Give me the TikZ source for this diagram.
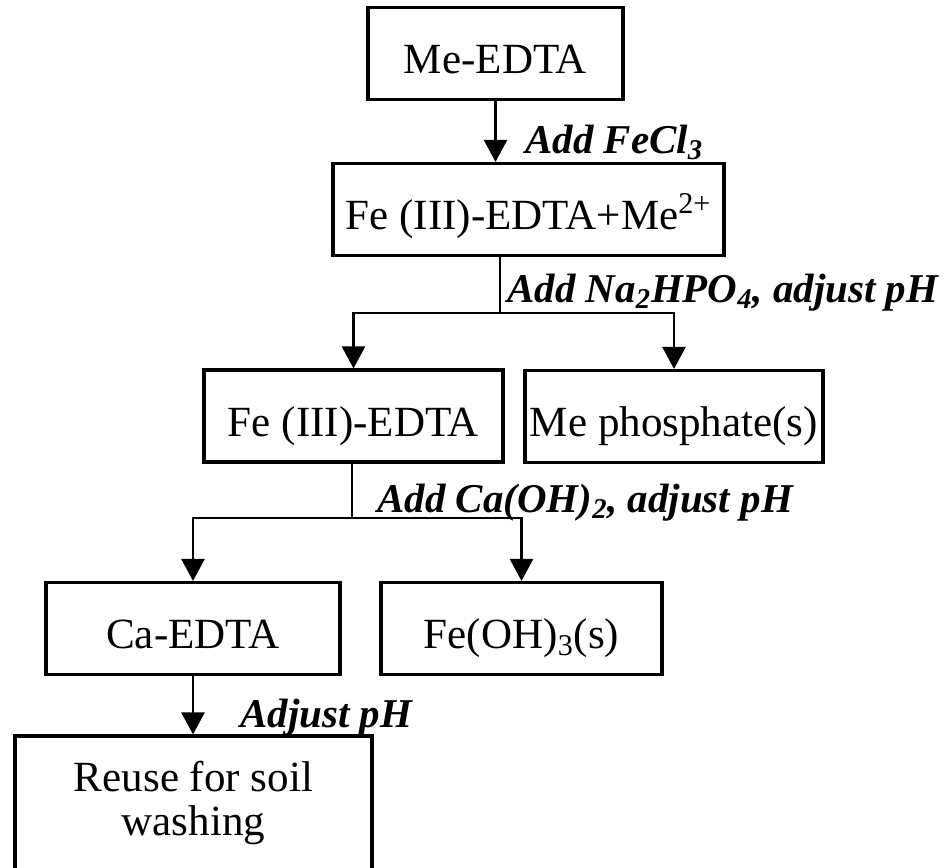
\documentclass[tikz,border=0pt]{standalone}
\usepackage{fontspec}
\setmainfont{Liberation Serif}
\usetikzlibrary{arrows.meta, positioning}

\begin{document}
\begin{tikzpicture}[x=0.02cm, y=-0.02cm,
    stagebox/.style={draw, line width=1.8pt, inner sep=0pt, minimum height=1.84cm,
      text height=0.9cm, text depth=0.1cm,
      font=\fontsize{24.5}{25.2}\selectfont},
    addlabel/.style={anchor=base west, inner sep=0pt,
      font=\fontsize{23.3}{25}\selectfont\bfseries\itshape},
    link/.style={line width=1.4pt},
    flow/.style={link, -{Triangle[width=0.46cm, length=0.44cm]}}]
  \useasboundingbox (0,0) rectangle (949,867);
  \clip (0,0) rectangle (949,867);

  % stages
  \node[stagebox, minimum width=5.10cm] (medta) at (495.5,53.5) {Me-EDTA};
  \node[stagebox, minimum width=7.82cm] (femix) at (528.5,209.5) {Fe (III)-EDTA+Me\textsuperscript{2+}};
  \node[stagebox, minimum width=5.98cm] (feedta) at (353.5,416) {Fe (III)-EDTA};
  \node[stagebox, minimum width=5.96cm] (mephos) at (674,416.5) {Me phosphate(s)};
  \node[stagebox, minimum width=5.88cm] (caedta) at (193,628.5) {Ca-EDTA};
  \node[stagebox, minimum width=5.62cm] (feoh) at (521.5,628.5) {Fe(OH)\textsubscript{3}(s)};
  \node[stagebox, text height={}, text depth={}, minimum width=7.14cm, minimum height=2.68cm,
    align=center] (reuse) at (193.5,803) {Reuse for soil\\washing};

  % split points
  \coordinate (split1) at (500,313);
  \coordinate (split2) at (352,518);

  % connectors
  \draw[flow] (medta.south) -- (medta.south |- femix.north);
  \draw[link] (split1 |- femix.south) -- (split1);
  \draw[flow] (split1) -| (feedta);
  \draw[flow] (split1) -| (mephos);
  \draw[link] (split2 |- feedta.south) -- (split2);
  \draw[flow] (split2) -| (caedta);
  \draw[flow] (split2) -| (feoh);
  \draw[flow] (caedta.south) -- (caedta.south |- reuse.north);

  % reagent labels
  \node[addlabel] (addfecl) at (525,153) {Add FeCl\textsubscript{3}};
  \node[addlabel] (addphos) at (507,302) {Add Na\textsubscript{2}HPO\textsubscript{4}, adjust pH};
  \node[addlabel] (addlime) at (377,512) {Add Ca(OH)\textsubscript{2}, adjust pH};
  \node[addlabel] (adjph) at (240,727) {Adjust pH};
\end{tikzpicture}
\end{document}
